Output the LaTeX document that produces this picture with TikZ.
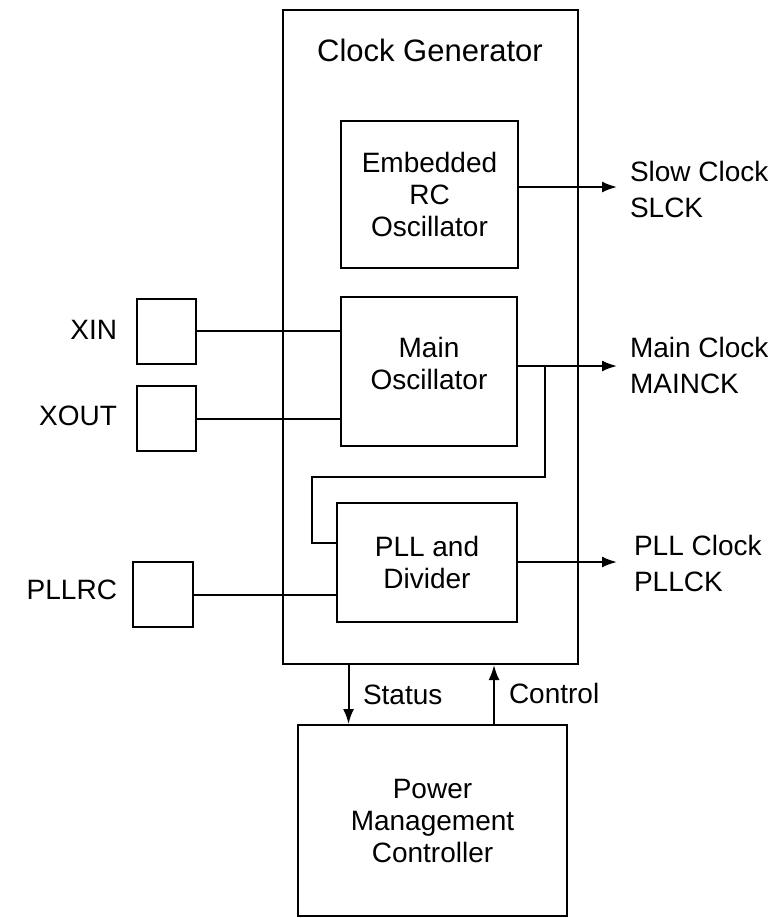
\documentclass[tikz,border=0pt]{standalone}
\usepackage{fontspec}
\setmainfont{Liberation Sans}
\usetikzlibrary{arrows.meta,calc,positioning}

\begin{document}
\begin{tikzpicture}[x=1pt,y=-1pt,>={Latex[length=15pt,width=11pt]},line width=2pt,
    blk/.style={draw,inner sep=0pt,align=center,font=\fontsize{28}{32}\selectfont},
    pad/.style={draw,inner sep=0pt,minimum width=59pt,minimum height=65pt},
    lbl/.style={inner sep=0pt,align=left,font=\fontsize{28}{36}\selectfont}]
  \useasboundingbox (0,0) rectangle (774,918);
  % outer block and its parts
  \node[blk,minimum width=295pt,minimum height=654pt] (clkgen) at (430.5,337) {};
  \node[lbl,font=\fontsize{31}{36}\selectfont] (title) at (430,50) {Clock Generator};
  \node[blk,minimum width=177pt,minimum height=147pt] (rcosc) at (429.5,194.5) {Embedded\\RC\\Oscillator};
  \node[blk,minimum width=176pt,minimum height=149pt] (mainosc) at (429,371.5) {Main\\Oscillator\\[-16pt]};
  \node[blk,minimum width=180pt,minimum height=119pt] (pll) at (427,562.5) {PLL and\\Divider};
  \node[blk,minimum width=269pt,minimum height=191pt] (pmc) at (432.5,820.5) {Power\\Management\\Controller};
  % pads
  \node[pad] (xin) at (166.5,331) {};
  \node[pad] (xout) at (166.5,418.5) {};
  \node[pad,minimum width=60pt] (pllrc) at (163,594.5) {};
  \node[lbl,anchor=east] (xinlbl) at (118,330) {XIN};
  \node[lbl,anchor=east] (xoutlbl) at (118,416) {XOUT};
  \node[lbl,anchor=east] (pllrclbl) at (118,590) {PLLRC};
  \draw (xin) -- (mainosc.west |- xin);
  \draw (xout) -- (mainosc.west |- xout);
  \draw (pllrc) -- (pll.west |- pllrc);
  % clock outputs
  \coordinate (slck) at (617,187);
  \coordinate (mainck) at (617,366);
  \coordinate (pllck) at (617,562);
  \draw[->] (rcosc.east |- slck) -- (slck);
  \draw[->] (mainosc.east |- mainck) -- (mainck);
  \draw[->] (pll.east |- pllck) -- (pllck);
  \node[lbl,anchor=west] (slcklbl) at (629,189) {Slow Clock\\SLCK};
  \node[lbl,anchor=west] (mainlbl) at (629,365) {Main Clock\\MAINCK};
  \node[lbl,anchor=west] (plllbl) at (633,563) {PLL Clock\\PLLCK};
  % main clock into the PLL
  \coordinate (fb) at ($(mainosc.east |- mainck)+(27,0)$);
  \draw (fb) -- ++(0,111) -- ++(-233,0) -- ++(0,66) coordinate (fbend) -- (fbend -| pll.west);
  % status and control
  \draw[->] ($(clkgen.south west)!0.224!(clkgen.south east)$) coordinate (st) -- (st |- pmc.north);
  \draw[->] ($(pmc.north west)!0.727!(pmc.north east)$) coordinate (ct) -- (ct |- clkgen.south);
  \node[lbl,anchor=west] (stlbl) at (362,695) {Status};
  \node[lbl,anchor=west] (ctlbl) at (508,693) {Control};
\end{tikzpicture}
\end{document}
